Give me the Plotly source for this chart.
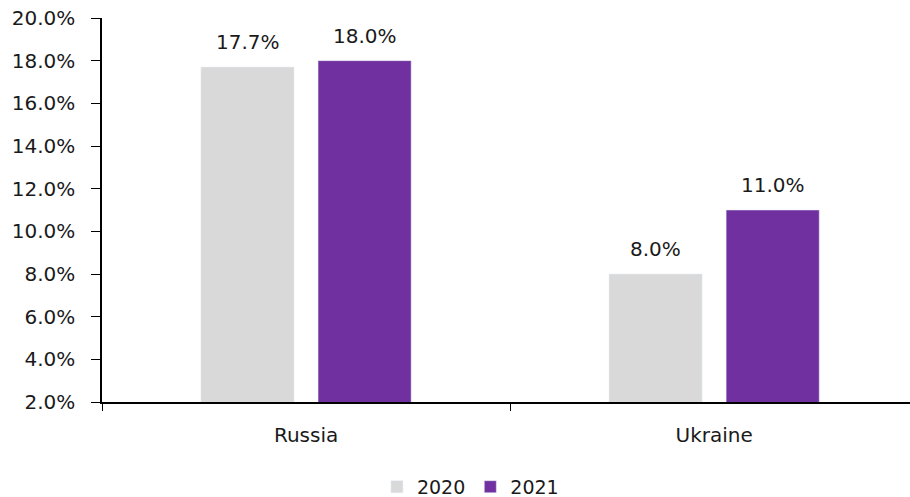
import plotly.graph_objects as go

categories = ["Russia", "Ukraine"]
series_names = ["2020", "2021"]
values_2020 = [17.7, 8.0]
values_2021 = [18.0, 11.0]
colors = ["#d9d9d9", "#7030a0"]
y_ticks = [2, 4, 6, 8, 10, 12, 14, 16, 18, 20]

FONT = "DejaVu Sans"

fig = go.Figure()
for name, vals, col in zip(series_names, [values_2020, values_2021], colors):
    fig.add_trace(go.Bar(
        x=categories, y=vals, name=name, marker_color=col,
    ))

# value labels above bars (offset of each series within its group)
slot_px = 117
for i, vals in enumerate([values_2020, values_2021]):
    shift = (i - 0.5) * slot_px
    for c, v in zip(categories, vals):
        fig.add_annotation(x=c, y=v, text=f"{v:.1f}%", showarrow=False,
                           xshift=shift, yshift=25, yanchor="middle",
                           font=dict(size=20, color="#1a1a1a", family=FONT))

fig.update_layout(
    width=910, height=497,
    margin=dict(l=102, r=0, t=18, b=95, autoexpand=False),
    paper_bgcolor="white", plot_bgcolor="white",
    font=dict(family=FONT, color="#1a1a1a", size=18),
    barmode="group", bargap=0.426, bargroupgap=0.205,
    showlegend=True,
    legend=dict(orientation="h", x=0.456, xanchor="center", y=-0.221, yanchor="middle",
                font=dict(size=19), itemwidth=30, traceorder="normal"),
    xaxis=dict(type="category", range=[-0.5, 1.48], showline=True, linecolor="black",
               linewidth=1.5, ticks="outside", tickson="boundaries", ticklen=7,
               tickcolor="black", showgrid=False, tickfont=dict(size=20),
               ticklabelstandoff=14, automargin=False),
    yaxis=dict(range=[2, 20], tickvals=y_ticks, ticktext=[f"{v:.1f}%" for v in y_ticks],
               showline=True, linecolor="black", linewidth=1.5, ticks="outside",
               ticklen=9, tickcolor="black", showgrid=False, zeroline=False,
               tickfont=dict(size=20), ticklabelstandoff=12, automargin=False),
)
fig.write_html("out.html")
